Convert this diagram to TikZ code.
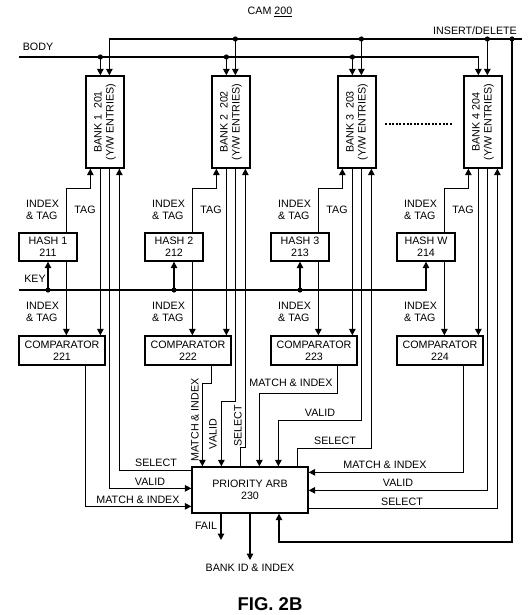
\documentclass[tikz,border=0pt]{standalone}
\usepackage{fontspec}
\setmainfont{Liberation Sans}
\usetikzlibrary{arrows.meta,calc}

\newcommand\sigfont{\fontsize{10.7}{11.8}\selectfont}

\tikzset{
	blk/.style={draw, line width=1.3pt, align=center, inner sep=0pt, font=\sigfont},
	lbl/.style={inner sep=0pt, font=\sigfont},
	sig/.style={line width=1.2pt},
	arr/.style={sig, -{Triangle[length=6.5pt,width=6.5pt]}},
}

\begin{document}
\begin{tikzpicture}[x=1pt,y=-1pt]
	\useasboundingbox (0,0) rectangle (531,615);

	% banks, hashes, comparators
	\foreach \i/\bx/\bt/\h in {1/86/{BANK 1\ \ 201}/1, 2/212/{BANK 2\ \ 202}/2, 3/338/{BANK 3\ \ 203}/3, 4/464/{BANK 4 204}/W}{
		\node[blk, minimum width=38pt, minimum height=92pt] (bank\i) at (\bx+19,122) {};
		\node[lbl, rotate=90, align=center] (bank\i txt) at (bank\i) {\bt\\(Y/W ENTRIES)};
		\node[blk, minimum width=58pt, minimum height=28pt] (hash\i) at (\bx-38,247) {HASH \h\\21\i};
		\node[blk, minimum width=86pt, minimum height=29pt] (cmp\i) at (\bx-24,350.5) {COMPARATOR\\22\i};

		\coordinate (tb\i) at ($(bank\i.north west)+(15,0)$);
		\coordinate (ti\i) at ($(bank\i.north west)+(24,0)$);
		\coordinate (bi\i) at ($(bank\i.south west)+(5,0)$);
		\coordinate (bt\i) at ($(bank\i.south west)+(15,0)$);
		\coordinate (bv\i) at ($(bank\i.south west)+(24,0)$);
		\coordinate (bs\i) at ($(bank\i.south west)+(34,0)$);
		\coordinate (ho\i) at ($(hash\i.north west)+(48,0)$);
		\coordinate (hb\i) at ($(hash\i.south west)+(48,0)$);
		\coordinate (co\i) at ($(cmp\i.south west)+(67,0)$);

		\node[lbl, align=left, anchor=west] (it\i) at (\bx-60,210) {INDEX\\\& TAG};
		\node[lbl] (tg\i) at (\bx-1,210) {TAG};
		\node[lbl, align=left, anchor=west] (ib\i) at (\bx-60,312) {INDEX\\\& TAG};

		\draw[arr] (ho\i) |- ($(bi\i)+(0,20)$) -- (bi\i);
		\draw[arr] (hb\i) -- (hb\i |- cmp\i.north);
		\draw[arr] (bt\i) -- (bt\i |- cmp\i.north);
	}

	\node[blk, minimum width=116pt, minimum height=46pt] (arb) at (250,490) {PRIORITY ARB\\230};
	\foreach \k/\dx in {1/11,2/30,3/49,4/68,5/87,6/106}
		\coordinate (a\k) at ($(arb.north west)+(\dx,0)$);
	\foreach \k/\dy in {1/4,2/22,3/40}
		\coordinate (w\k) at ($(arb.north west)+(0,\dy)$);
	\foreach \k/\dy in {1/6,2/24,3/42}
		\coordinate (e\k) at ($(arb.north east)+(0,\dy)$);

	% insert/delete
	\coordinate (idr) at (522,39);
	\draw[arr] (idr) -| (ti1);
	\foreach \i in {2,3,4}{
		\fill (ti\i |- idr) circle (2.6pt);
		\draw[arr] (ti\i |- idr) -- (ti\i);
	}
	\coordinate (lp) at (512,39);
	\coordinate (lpb) at (512,542);
	\fill (lp) circle (2.6pt);
	\draw[arr] (lp) -- (lpb) -| ($(arb.south)+(29,0)$);

	% body
	\coordinate (bl) at (19,57);
	\draw[arr] (bl) -| (tb4);
	\foreach \i in {1,2,3}{
		\fill (tb\i |- bl) circle (2.6pt);
		\draw[arr] (tb\i |- bl) -- (tb\i);
	}

	% key
	\coordinate (kl) at (19,290);
	\draw[arr] (kl) -| (hash4.south);
	\foreach \i in {1,2,3}{
		\fill (hash\i.south |- kl) circle (2.6pt);
		\draw[arr] (hash\i.south |- kl) -- (hash\i.south);
	}

	\draw[sig, dash pattern=on 2pt off 1.6pt] (385,124) -- (453,124);

	% bank 1
	\draw[arr] (co1) |- (w3);
	\draw[arr] (bv1) |- (w2);
	\draw[arr] (w1) -| (bs1);
	% bank 2
	\draw[arr] (co2) -- ++(0,18) -| (a1);
	\draw[arr] (bv2) |- ($(a2)+(0,-65)$) -- (a2);
	\draw[arr] (a3) -- ++(0,-19) -| (bs2);
	% bank 3
	\draw[arr] (co3) -- ++(0,28) -| (a4);
	\draw[arr] (bv3) |- ($(a5)+(0,-46)$) -- (a5);
	\draw[arr] (a6) -- ++(0,-18) -| (bs3);
	% bank 4
	\draw[arr] (co4) |- (e1);
	\draw[arr] (bv4) |- (e2);
	\draw[arr] (e3) -| (bs4);

	% outputs
	\coordinate (failend) at (221,540);
	\coordinate (idend) at (250,560);
	\draw[arr] (arb.south -| failend) -- (failend);
	\draw[arr] (arb.south) -- (idend);

	\node[lbl] (title) at (270,12) {CAM \underline{200}};
	\node[lbl] (body) at (38,47) {BODY};
	\node[lbl] (insdel) at (475,31) {INSERT/DELETE};
	\node[lbl] (key) at (35,279) {KEY};

	\node[lbl] (sel1) at (156,463) {SELECT};
	\node[lbl] (val1) at (150,482) {VALID};
	\node[lbl] (mi1) at (138,500) {MATCH \& INDEX};
	\node[lbl, rotate=90] (mi2) at (195,420) {MATCH \& INDEX};
	\node[lbl, rotate=90] (val2) at (213,434) {VALID};
	\node[lbl, rotate=90] (sel2) at (238,426) {SELECT};
	\node[lbl] (mi3) at (291,383) {MATCH \& INDEX};
	\node[lbl] (val3) at (320,413) {VALID};
	\node[lbl] (sel3) at (335,441) {SELECT};
	\node[lbl] (mi4) at (385,465) {MATCH \& INDEX};
	\node[lbl] (val4) at (398,483) {VALID};
	\node[lbl] (sel4) at (402,502) {SELECT};
	\node[lbl] (fail) at (206,526) {FAIL};
	\node[lbl] (bankid) at (250,568) {BANK ID \& INDEX};

	\node[font=\bfseries\fontsize{18.5}{20}\selectfont, inner sep=0pt] (fig) at (270,604) {FIG. 2B};
\end{tikzpicture}
\end{document}
